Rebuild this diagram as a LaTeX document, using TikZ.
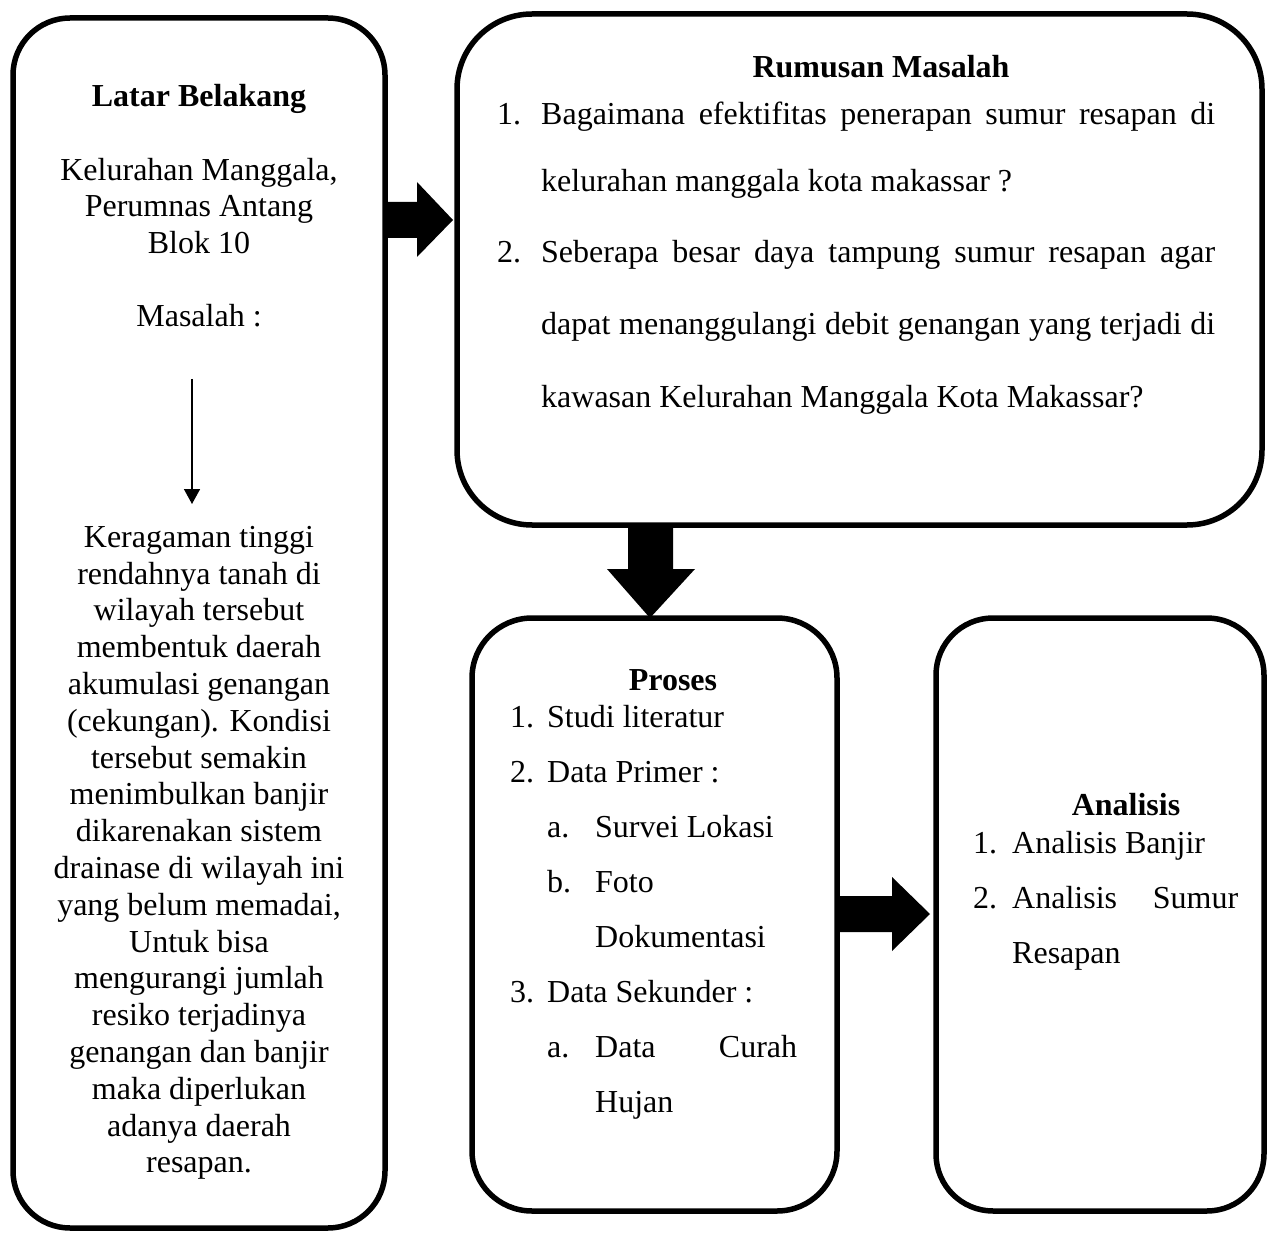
\documentclass[tikz,border=0pt]{standalone}
\usepackage{fontspec}
\setmainfont{Liberation Serif}
\usetikzlibrary{arrows.meta,calc}

\tikzset{
  box/.style={draw, line width=5.5pt, rounded corners=#1, inner sep=0pt},
  box/.default=57pt,
  txt/.style={inner sep=0pt, font={\fontsize{32}{36.8}\selectfont}},
  ttl/.style={txt, font={\fontsize{32}{36.8}\selectfont\bfseries}},
  blockarrow/.style={fill=black, draw=none}
}

\begin{document}
\begin{tikzpicture}[x=1pt,y=-1pt]
  \useasboundingbox (0,0) rectangle (1270,1233);

  % boxes
  \node[box, minimum width=372pt, minimum height=1210pt] (latar) at (199,623) {};
  \node[box=75pt, minimum width=805pt, minimum height=511pt] (rumusan) at (859.5,269.5) {};
  \node[box=60pt, minimum width=365pt, minimum height=593pt] (proses) at (654.5,914.5) {};
  \node[box, minimum width=328pt, minimum height=593pt] (analisis) at (1100,914.5) {};

  % block arrows
  \fill[blockarrow] (385,202) -- (417,202) -- (417,182) -- (453,220) -- (417,257) -- (417,238) -- (385,238) -- cycle;
  \fill[blockarrow] (628,525) -- (673,525) -- (673,569) -- (695,569) -- (650,618) -- (607,569) -- (628,569) -- cycle;
  \fill[blockarrow] (835,896) -- (892,896) -- (892,877) -- (930,914) -- (892,951) -- (892,932) -- (835,932) -- cycle;

  % latar belakang
  \node[ttl, anchor=base] (latarT) at (199,107) {Latar Belakang};
  \node[txt, anchor=north, align=center] (lokasi) at (199,180-25.76)
    {\strut Kelurahan Manggala,\\Perumnas Antang\\Blok 10};
  \node[txt, anchor=base] (masalah) at (199,327) {Masalah :};
  \node[txt, anchor=north, align=center] (kondisi) at (199,547-25.76)
    {\strut Keragaman tinggi\\rendahnya tanah di\\wilayah tersebut\\membentuk daerah\\
     akumulasi genangan\\(cekungan). Kondisi\\tersebut semakin\\menimbulkan banjir\\
     dikarenakan sistem\\drainase di wilayah ini\\yang belum memadai,\\Untuk bisa\\
     mengurangi jumlah\\resiko terjadinya\\genangan dan banjir\\maka diperlukan\\
     adanya daerah\\resapan.};
  \coordinate (panahA) at (192,379);
  \coordinate (panahB) at (192,504);
  \draw[line width=1.6pt, -{Triangle[length=15pt,width=16pt]}] (panahA) -- (panahB);

  % rumusan masalah
  \node[ttl, anchor=base] (rumusanT) at (881,78) {Rumusan Masalah};
  \node[txt, anchor=base west] (r1) at (497,125) {1.};
  \node[txt, anchor=base west] (r1a) at (541,125)
    {\makebox[674pt][s]{Bagaimana efektifitas penerapan sumur resapan di}};
  \node[txt, anchor=base west] (r1b) at (541,192) {kelurahan manggala kota makassar ?};
  \node[txt, anchor=base west] (r2) at (497,263) {2.};
  \node[txt, anchor=base west] (r2a) at (541,263)
    {\makebox[674pt][s]{Seberapa besar daya tampung sumur resapan agar}};
  \node[txt, anchor=base west] (r2b) at (541,335)
    {\makebox[674pt][s]{dapat menanggulangi debit genangan yang terjadi di}};
  \node[txt, anchor=base west] (r2c) at (541,407) {kawasan Kelurahan Manggala Kota Makassar?};

  % proses
  \node[ttl, anchor=base] (prosesT) at (673,690) {Proses};
  \foreach \x/\y/\lab [count=\i] in {510/727/1., 547/727/Studi literatur,
      510/782/2., 547/782/Data Primer :, 547/837/a., 595/837/Survei Lokasi,
      547/892/b., 595/892/Foto, 595/947/Dokumentasi,
      510/1002/3., 547/1002/Data Sekunder :, 547/1057/a.,
      595/1057/\makebox[202pt][s]{Data Curah}, 595/1112/Hujan}{
    \node[txt, anchor=base west] (p\i) at (\x,\y) {\lab};
  }

  % analisis
  \node[ttl, anchor=base] (analisisT) at (1126,815) {Analisis};
  \node[txt, anchor=base west] (a1) at (973,853) {1.};
  \node[txt, anchor=base west] (a1a) at (1012,853) {Analisis Banjir};
  \node[txt, anchor=base west] (a2) at (973,908) {2.};
  \node[txt, anchor=base west] (a2a) at (1012,908) {\makebox[226pt][s]{Analisis Sumur}};
  \node[txt, anchor=base west] (a2b) at (1012,963) {Resapan};
\end{tikzpicture}
\end{document}
